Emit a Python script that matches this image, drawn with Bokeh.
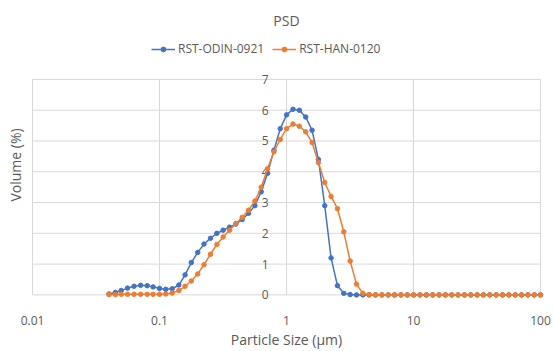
from bokeh.plotting import figure
from bokeh.models import FixedTicker, Range1d, Legend, LegendItem, ColumnDataSource
from bokeh.core.properties import value
from bokeh.embed import file_html
from bokeh.resources import INLINE

# particle size classes (µm)
sizes = [0.040, 0.045, 0.050, 0.056, 0.063, 0.071, 0.080, 0.089, 0.100, 0.112,
         0.126, 0.142, 0.159, 0.178, 0.200, 0.224, 0.252, 0.283, 0.317, 0.356,
         0.399, 0.448, 0.502, 0.564, 0.632, 0.710, 0.796, 0.893, 1.002, 1.125,
         1.262, 1.416, 1.589, 1.783, 2.000, 2.244, 2.518, 2.825, 3.170, 3.557,
         3.991, 4.477, 5.024, 5.637, 6.325, 7.096, 7.962, 8.934, 10.024, 11.247,
         12.619, 14.159, 15.887, 17.825, 20.000, 22.440, 25.179, 28.251, 31.698, 35.566,
         39.905, 44.774, 50.238, 56.368, 63.246, 70.963, 79.621, 89.337, 100.0]

odin = [0.03, 0.08, 0.14, 0.22, 0.28, 0.31, 0.30, 0.26, 0.21, 0.18,
        0.20, 0.32, 0.65, 1.05, 1.38, 1.65, 1.84, 2.00, 2.10, 2.20,
        2.30, 2.45, 2.65, 2.90, 3.35, 3.95, 4.70, 5.40, 5.85, 6.03,
        6.00, 5.78, 5.35, 4.40, 2.90, 1.20, 0.30, 0.05, 0.01, 0.0,
        0.0, 0.0, 0.0, 0.0, 0.0, 0.0, 0.0, 0.0, 0.0, 0.0,
        0.0, 0.0, 0.0, 0.0, 0.0, 0.0, 0.0, 0.0, 0.0, 0.0,
        0.0, 0.0, 0.0, 0.0, 0.0, 0.0, 0.0, 0.0, 0.0]

han = [0.01, 0.01, 0.02, 0.02, 0.02, 0.02, 0.02, 0.02, 0.02, 0.03,
       0.06, 0.14, 0.28, 0.45, 0.68, 0.98, 1.32, 1.64, 1.88, 2.10,
       2.32, 2.52, 2.75, 3.05, 3.50, 4.10, 4.65, 5.05, 5.40, 5.55,
       5.48, 5.30, 4.95, 4.30, 3.65, 3.20, 2.80, 2.05, 1.10, 0.35,
       0.05, 0.01, 0.0, 0.0, 0.0, 0.0, 0.0, 0.0, 0.0, 0.0,
       0.0, 0.0, 0.0, 0.0, 0.0, 0.0, 0.0, 0.0, 0.0, 0.0,
       0.0, 0.0, 0.0, 0.0, 0.0, 0.0, 0.0, 0.0, 0.0]

x_ticks = [0.01, 0.1, 1, 10, 100]
x_tick_labels = ["0.01", "0.1", "1", "10", "100"]
y_ticks = [0, 1, 2, 3, 4, 5, 6, 7]
y_tick_labels = ["0", "1", "2", "3", "4", "5", "6", "7"]

FONT = "Open Sans"
TXT = "#595959"
GRID = "#d9d9d9"
BLUE = "#4472C4"
ORANGE = "#ED7D31"

p = figure(width=553, height=351, x_axis_type="log",
           x_range=Range1d(0.0093, 107.5), y_range=Range1d(-0.15, 8.59),
           output_backend="svg", toolbar_location=None,
           min_border_left=28, min_border_right=9, min_border_top=30, min_border_bottom=51,
           background_fill_color="white", border_fill_color="white")
p.outline_line_color = None

p.title.text = "PSD"
p.title.align = "center"
p.title.text_font = FONT
p.title.text_font_size = "14px"
p.title.text_font_style = "normal"
p.title.text_color = TXT
p.title.standoff = 2

# x axis
xa = p.xaxis[0]
xa.ticker = FixedTicker(ticks=x_ticks)
xa.major_label_overrides = {t: l for t, l in zip(x_ticks, x_tick_labels)}
xa.axis_line_color = None
xa.major_tick_line_color = None
xa.minor_tick_line_color = None
xa.major_tick_out = 0
xa.major_tick_in = 0
xa.major_label_standoff = 16
xa.major_label_text_font = FONT
xa.major_label_text_font_size = "12px"
xa.major_label_text_color = TXT
xa.axis_label = "Particle Size (µm)"
xa.axis_label_text_font = FONT
xa.axis_label_text_font_size = "14px"
xa.axis_label_text_font_style = "normal"
xa.axis_label_text_color = TXT
xa.axis_label_standoff = 2

# y axis: only the title on the left; tick labels drawn at x = 1
ya = p.yaxis[0]
ya.ticker = FixedTicker(ticks=y_ticks)
ya.major_label_overrides = {t: "" for t in y_ticks}
ya.axis_line_color = None
ya.major_tick_line_color = None
ya.minor_tick_line_color = None
ya.major_tick_out = 0
ya.major_tick_in = 0
ya.minor_tick_out = 0
ya.major_label_standoff = 0
ya.axis_label = "Volume (%)"
ya.axis_label_text_font = FONT
ya.axis_label_text_font_size = "14px"
ya.axis_label_text_font_style = "normal"
ya.axis_label_text_color = TXT
ya.axis_label_standoff = 4

# gridlines limited to the 0..7 / 0.01..100 area
p.xgrid.visible = False
p.ygrid.visible = False
p.segment(x0=[x_ticks[0]] * len(y_ticks), x1=[x_ticks[-1]] * len(y_ticks),
          y0=y_ticks, y1=y_ticks, line_color=GRID, line_width=1)
p.segment(x0=x_ticks, x1=x_ticks, y0=[y_ticks[0]] * len(x_ticks),
          y1=[y_ticks[-1]] * len(x_ticks), line_color=GRID, line_width=1)

ysrc = ColumnDataSource(dict(x=[1] * len(y_ticks), y=y_ticks, t=y_tick_labels))
p.text(x="x", y="y", text="t", source=ysrc, x_offset=-18, text_align="right",
       text_baseline="middle", text_font=value(FONT), text_font_size="12px",
       text_color=TXT)

src = ColumnDataSource(dict(x=sizes, a=odin, b=han))
l1 = p.line("x", "a", source=src, line_color=BLUE, line_width=1.5)
s1 = p.scatter("x", "a", source=src, size=4.5, fill_color=BLUE, line_color=BLUE)
l2 = p.line("x", "b", source=src, line_color=ORANGE, line_width=1.5)
s2 = p.scatter("x", "b", source=src, size=4.5, fill_color=ORANGE, line_color=ORANGE)

legend = Legend(items=[LegendItem(label="RST-ODIN-0921", renderers=[l1, s1]),
                       LegendItem(label="RST-HAN-0120", renderers=[l2, s2])],
                orientation="horizontal", location=(123, 242),
                label_text_font=FONT, label_text_font_size="12px", label_text_color=TXT,
                glyph_width=24, glyph_height=12, label_standoff=3, spacing=8,
                padding=4, margin=0, border_line_color=None, background_fill_alpha=0)
p.add_layout(legend, "center")

open("out.html", "w").write(file_html(p, INLINE))
